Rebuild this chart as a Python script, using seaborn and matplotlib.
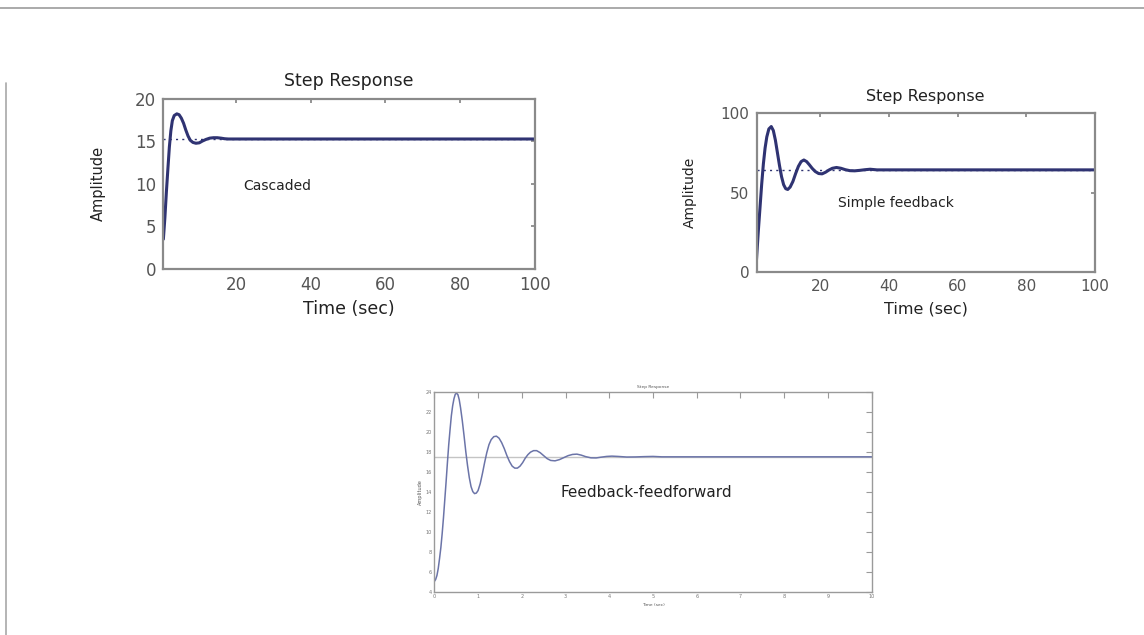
import matplotlib
matplotlib.use("Agg")
import matplotlib.pyplot as plt
import seaborn as sns
import pandas as pd
from matplotlib.lines import Line2D

# --- Cascaded control loop: step response -------------------------------
casc_t = [0.6, 1.0, 1.4, 1.8, 2.2, 2.6, 3.0, 3.5, 4.2, 4.8, 5.4, 6.0, 6.6,
          7.2, 7.8, 8.5, 9.3, 10.2, 11.0, 12.0, 13.0, 14.0, 15.0, 16.0,
          17.0, 18.0, 100.0]
casc_y = [3.5, 6.0, 9.0, 11.7, 14.3, 16.2, 17.4, 18.0, 18.2, 18.1, 17.7,
          17.1, 16.3, 15.6, 15.1, 14.85, 14.75, 14.8, 15.0, 15.2, 15.35,
          15.4, 15.4, 15.35, 15.28, 15.25, 15.25]
casc_final = 15.25
casc_yticks = [0, 5, 10, 15, 20]
casc_xticks = [20, 40, 60, 80, 100]

# --- Simple feedback loop: step response --------------------------------
simp_t = [1.4, 1.9, 2.4, 2.9, 3.4, 3.9, 4.4, 5.0, 5.7, 6.3, 6.9, 7.5, 8.1,
          8.7, 9.3, 9.9, 10.5, 11.2, 12.0, 12.8, 13.6, 14.4, 15.2, 16.0,
          16.8, 17.6, 18.5, 19.5, 20.5, 21.5, 22.5, 23.5, 24.7, 26.0, 27.3,
          28.6, 30.0, 31.5, 33.0, 34.5, 35.5, 36.5, 100.0]
simp_y = [8, 25, 40, 55, 68, 78, 85, 90, 91.5, 89, 83, 75, 67, 60, 55,
          52.5, 52, 53.5, 57, 62, 66.5, 69.5, 70.5, 69.5, 67.5, 65.3, 63.3,
          62, 61.8, 62.8, 64.2, 65.3, 65.8, 65.3, 64.4, 63.8, 63.7, 64,
          64.4, 64.7, 64.5, 64.3, 64.3]
simp_final = 64.3
simp_yticks = [0, 50, 100]
simp_xticks = [20, 40, 60, 80, 100]

# --- Feedback-feedforward loop: step response ---------------------------
ffw_t = [0.00, 0.03, 0.06, 0.09, 0.12, 0.15, 0.18, 0.21, 0.24, 0.27, 0.30,
         0.33, 0.36, 0.39, 0.42, 0.45, 0.48, 0.51, 0.54, 0.57, 0.60, 0.64,
         0.68, 0.72, 0.76, 0.80, 0.84, 0.88, 0.92, 0.96, 1.00, 1.05, 1.10,
         1.15, 1.20, 1.25, 1.30, 1.36, 1.42, 1.48, 1.54, 1.60, 1.66, 1.72,
         1.78, 1.84, 1.90, 1.96, 2.02, 2.08, 2.14, 2.20, 2.27, 2.34, 2.42,
         2.50, 2.58, 2.66, 2.76, 2.86, 2.96, 3.06, 3.16, 3.26, 3.36, 3.46,
         3.58, 3.70, 3.82, 3.94, 4.06, 4.20, 4.40, 4.60, 4.80, 5.00, 5.20,
         5.40, 10.0]
ffw_y = [5.0, 5.2, 5.6, 6.3, 7.3, 8.4, 9.8, 11.4, 13.2, 15.0, 16.9, 18.7,
         20.2, 21.6, 22.6, 23.3, 23.75, 23.85, 23.7, 23.2, 22.4, 21.1, 19.6,
         18.0, 16.6, 15.4, 14.5, 14.0, 13.8, 13.85, 14.1, 14.8, 15.8, 16.9,
         17.9, 18.7, 19.2, 19.5, 19.55, 19.35, 18.9, 18.3, 17.6, 17.0,
         16.55, 16.35, 16.35, 16.55, 16.9, 17.35, 17.7, 17.95, 18.1, 18.1,
         17.9, 17.6, 17.3, 17.12, 17.08, 17.2, 17.4, 17.6, 17.72, 17.75,
         17.65, 17.5, 17.38, 17.37, 17.45, 17.52, 17.55, 17.52, 17.46,
         17.47, 17.5, 17.52, 17.48, 17.48, 17.48]
ffw_final = 17.45
ffw_yticks = [4, 6, 8, 10, 12, 14, 16, 18, 20, 22, 24]
ffw_xticks = [0, 1, 2, 3, 4, 5, 6, 7, 8, 9, 10]

sns.set_theme(style="white")
plt.rcParams['font.family'] = ['DejaVu Sans']

W, H = 1144, 635
fig = plt.figure(figsize=(W / 100, H / 100), dpi=100)
fig.patch.set_facecolor("white")


def px_axes(left, top, right, bottom):
    return fig.add_axes([left / W, 1 - bottom / H, (right - left) / W,
                         (bottom - top) / H])


def matlab_style(ax, frame_color, frame_lw, tick_len, tick_size, tick_pad,
                 tick_color):
    for sp in ax.spines.values():
        sp.set_color(frame_color)
        sp.set_linewidth(frame_lw)
        sp.set_visible(True)
    ax.tick_params(direction="in", top=True, right=True, length=tick_len,
                   width=frame_lw * 0.8, color=frame_color,
                   labelsize=tick_size, labelcolor=tick_color, pad=tick_pad)
    ax.grid(False)
    ax.set_facecolor("white")


NAVY = "#2f3372"

# Cascaded
ax1 = px_axes(163, 98.5, 535, 269)
casc = pd.DataFrame({"t": casc_t, "y": casc_y})
ax1.axhline(casc_final, color=NAVY, lw=1.0, ls=(0, (1.5, 3)))
sns.lineplot(data=casc, x="t", y="y", ax=ax1, color=NAVY, lw=2.2)
ax1.set_xlim(0.5, 100)
ax1.set_ylim(0, 20)
ax1.set_xticks(casc_xticks)
ax1.set_yticks(casc_yticks)
matlab_style(ax1, "#8a8a8a", 1.6, 3, 12, 5, "#555555")
ax1.set_title("Step Response", fontsize=12.5, color="#222222", pad=9)
ax1.set_xlabel("Time (sec)", fontsize=12.5, color="#222222", labelpad=4)
ax1.set_ylabel("Amplitude", fontsize=10.5, color="#222222", labelpad=21)
ax1.text(21.9, 9.7, "Cascaded", fontsize=10, color="#222222",
         ha="left", va="center")

# Simple feedback
ax2 = px_axes(756.5, 113, 1095, 272.3)
simp = pd.DataFrame({"t": simp_t, "y": simp_y})
ax2.axhline(simp_final, color=NAVY, lw=1.0, ls=(0, (1.5, 3)))
sns.lineplot(data=simp, x="t", y="y", ax=ax2, color=NAVY, lw=2.2)
ax2.set_xlim(1.4, 100)
ax2.set_ylim(0, 100)
ax2.set_xticks(simp_xticks)
ax2.set_yticks(simp_yticks)
matlab_style(ax2, "#8a8a8a", 1.6, 3, 11, 5, "#555555")
ax2.set_title("Step Response", fontsize=11.5, color="#222222", pad=9)
ax2.set_xlabel("Time (sec)", fontsize=11.5, color="#222222", labelpad=5)
ax2.set_ylabel("Amplitude", fontsize=10, color="#222222", labelpad=17)
ax2.text(25.1, 43.4, "Simple feedback", fontsize=10, color="#222222",
         ha="left", va="center")

# Feedback-feedforward
ax3 = px_axes(434.3, 391.7, 871.7, 591.5)
ffw = pd.DataFrame({"t": ffw_t, "y": ffw_y})
ax3.axhline(ffw_final, color="#c4c4c4", lw=1.0)
sns.lineplot(data=ffw, x="t", y="y", ax=ax3, color="#6b74a8", lw=1.1)
ax3.set_xlim(0, 10)
ax3.set_ylim(4, 24)
ax3.set_xticks(ffw_xticks)
ax3.set_yticks(ffw_yticks)
matlab_style(ax3, "#9a9a9a", 1.0, 4, 3.5, 2, "#777777")
ax3.set_title("Step Response", fontsize=3.2, color="#555555", pad=3)
ax3.set_xlabel("Time (sec)", fontsize=3.2, color="#555555", labelpad=3)
ax3.set_ylabel("Amplitude", fontsize=3.6, color="#555555", labelpad=2)
ax3.text(2.89, 13.87, "Feedback-feedforward", fontsize=11, color="#222222",
         ha="left", va="center")

# Slide rules: a thin line across the top and one down the left edge
fig.add_artist(Line2D([0, 1], [1 - 8.3 / H, 1 - 8.3 / H],
                      transform=fig.transFigure, color="#9c9c9c", lw=1.2))
fig.add_artist(Line2D([6 / W, 6 / W], [1 - 83 / H, 0],
                      transform=fig.transFigure, color="#a8a8a8", lw=1.2))

fig.savefig("out.png", dpi=100, facecolor="white")
